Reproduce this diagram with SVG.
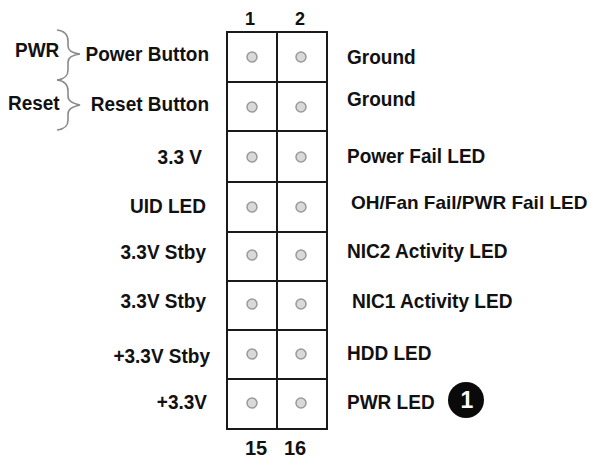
<svg xmlns="http://www.w3.org/2000/svg" width="593" height="462" viewBox="0 0 593 462">
<style>
text{font-family:"Liberation Sans",Arial,sans-serif;font-weight:bold;fill:#111;}
.lbl{font-size:20px;}
.l{text-anchor:end;}
.num{font-size:18px;text-anchor:middle;}
.num2{font-size:20px;text-anchor:middle;}
.pin{fill:#d9d9d9;stroke:#9a9a9a;stroke-width:1.5;}
.grid{fill:none;stroke:#1a1a1a;stroke-width:2;}
.brace{fill:none;stroke:#8a8a8a;stroke-width:1.6;}
</style>
<rect width="593" height="462" fill="#fff"/>
<g id="header">
<g id="grid">
<rect class="grid" x="227" y="32" width="100" height="397"/>
<line class="grid" x1="277" y1="32" x2="277" y2="429"/>
<line class="grid" x1="227" y1="82" x2="327" y2="82"/>
<line class="grid" x1="227" y1="131" x2="327" y2="131"/>
<line class="grid" x1="227" y1="182" x2="327" y2="182"/>
<line class="grid" x1="227" y1="232" x2="327" y2="232"/>
<line class="grid" x1="227" y1="281" x2="327" y2="281"/>
<line class="grid" x1="227" y1="330" x2="327" y2="330"/>
<line class="grid" x1="227" y1="379" x2="327" y2="379"/>
</g>
<g id="pins">
<circle class="pin" cx="252" cy="57" r="5"/><circle class="pin" cx="301" cy="57" r="5"/>
<circle class="pin" cx="252" cy="107" r="5"/><circle class="pin" cx="301" cy="107" r="5"/>
<circle class="pin" cx="252" cy="157" r="5"/><circle class="pin" cx="301" cy="157" r="5"/>
<circle class="pin" cx="252" cy="207" r="5"/><circle class="pin" cx="301" cy="207" r="5"/>
<circle class="pin" cx="252" cy="255" r="5"/><circle class="pin" cx="301" cy="255" r="5"/>
<circle class="pin" cx="252" cy="304" r="5"/><circle class="pin" cx="301" cy="304" r="5"/>
<circle class="pin" cx="252" cy="354" r="5"/><circle class="pin" cx="301" cy="354" r="5"/>
<circle class="pin" cx="252" cy="403" r="5"/><circle class="pin" cx="301" cy="403" r="5"/>
</g>
<g id="pin-numbers">
<text class="num" x="250" y="25">1</text>
<text class="num" x="300" y="25">2</text>
<text class="num2" x="256" y="455">15</text>
<text class="num2" x="295" y="455">16</text>
</g>
</g>
<g id="left-labels">
<text class="lbl l" x="209" y="61" textLength="123.5" lengthAdjust="spacingAndGlyphs">Power Button</text>
<text class="lbl l" x="209" y="111" textLength="118.2" lengthAdjust="spacingAndGlyphs">Reset Button</text>
<text class="lbl l" x="202" y="164" textLength="44.4" lengthAdjust="spacingAndGlyphs">3.3 V</text>
<text class="lbl l" x="206" y="213" textLength="76" lengthAdjust="spacingAndGlyphs">UID LED</text>
<text class="lbl l" x="206" y="259" textLength="85.5" lengthAdjust="spacingAndGlyphs">3.3V Stby</text>
<text class="lbl l" x="206" y="308" textLength="85.5" lengthAdjust="spacingAndGlyphs">3.3V Stby</text>
<text class="lbl l" x="210" y="363" textLength="96.6" lengthAdjust="spacingAndGlyphs">+3.3V Stby</text>
<text class="lbl l" x="207" y="409" textLength="50.2" lengthAdjust="spacingAndGlyphs">+3.3V</text>
</g>
<g id="groups">
<text class="lbl" x="15" y="57" textLength="44.3" lengthAdjust="spacingAndGlyphs">PWR</text>
<text class="lbl" x="8" y="110" textLength="51.7" lengthAdjust="spacingAndGlyphs">Reset</text>
</g>
<g id="connectors">
<path class="brace" d="M57,30 C65,31 68,35 68,41 L68,46 C68,51 72,53 80,54 C72,55 68,57 68,62 L68,70 C68,76 65,79 57,80"/>
<path class="brace" d="M57,80 C65,81 68,85 68,91 L68,96 C68,101 72,103 80,105 C72,107 68,109 68,114 L68,120 C68,126 65,129 57,130"/>
</g>
<g id="right-labels">
<text class="lbl" x="347" y="64" textLength="68.6" lengthAdjust="spacingAndGlyphs">Ground</text>
<text class="lbl" x="347" y="106" textLength="68.6" lengthAdjust="spacingAndGlyphs">Ground</text>
<text class="lbl" x="347" y="163" textLength="138.3" lengthAdjust="spacingAndGlyphs">Power Fail LED</text>
<text x="351" y="209" style="font-size:19px">OH/Fan Fail/PWR Fail LED</text>
<text class="lbl" x="347" y="258" textLength="160.5" lengthAdjust="spacingAndGlyphs">NIC2 Activity LED</text>
<text class="lbl" x="352" y="308" textLength="160.5" lengthAdjust="spacingAndGlyphs">NIC1 Activity LED</text>
<text class="lbl" x="347" y="360" textLength="84.4" lengthAdjust="spacingAndGlyphs">HDD LED</text>
<text class="lbl" x="347" y="409" textLength="87.6" lengthAdjust="spacingAndGlyphs">PWR LED</text>
</g>
<g id="badge">
<circle cx="466" cy="400" r="18" fill="#0a0a0a"/>
<text x="467" y="408" style="font-size:23px;fill:#fff;text-anchor:middle">1</text>
</g>
</svg>
